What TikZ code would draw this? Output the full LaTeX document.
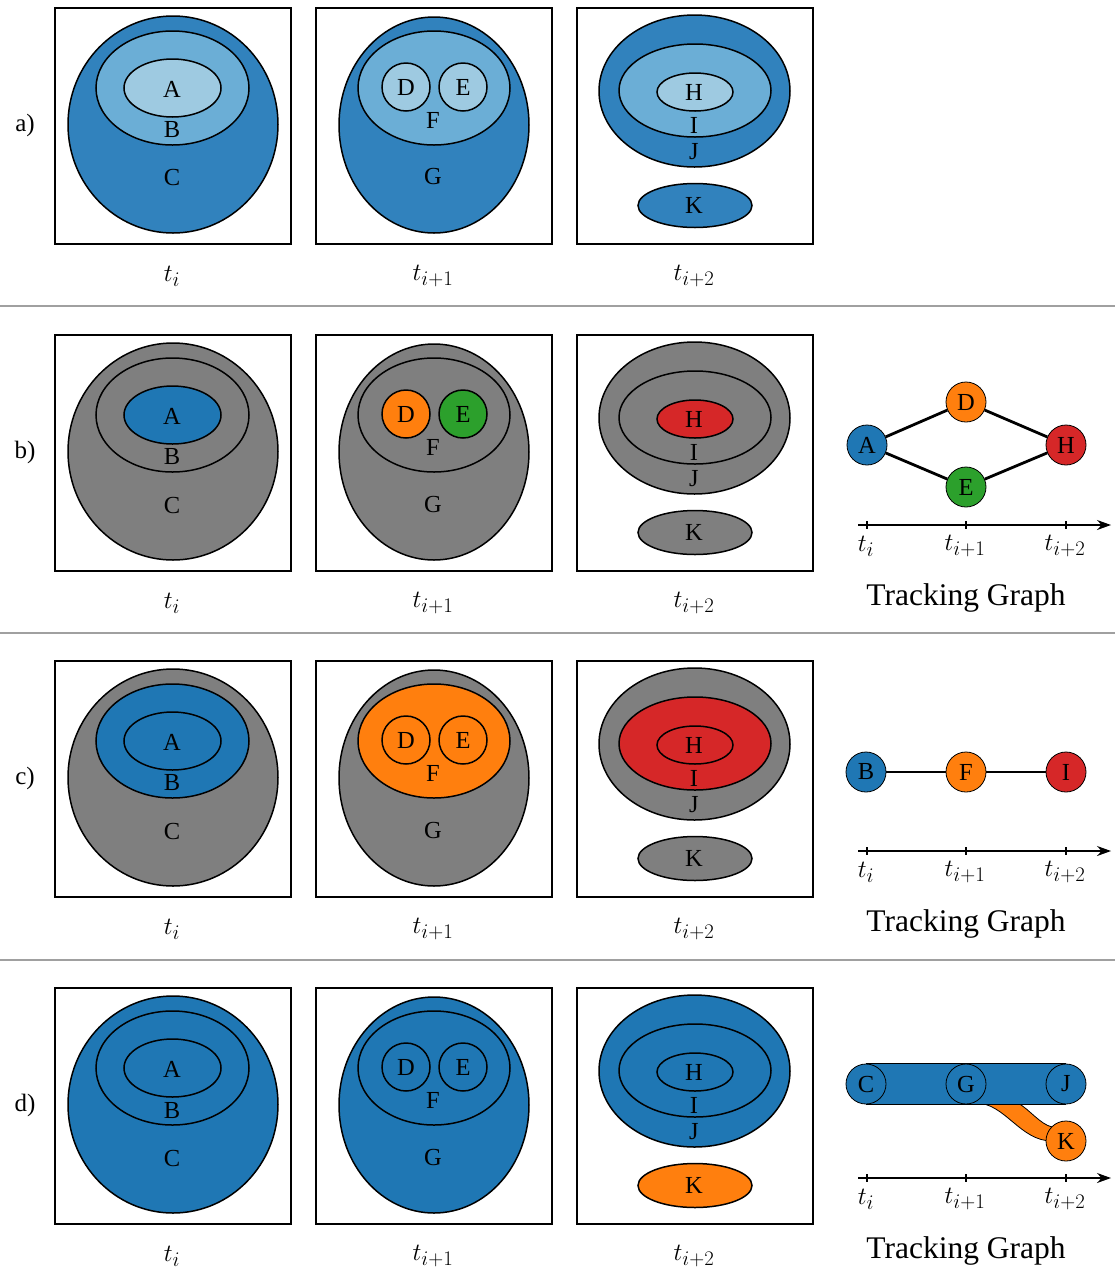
\documentclass[tikz,border=0pt]{standalone}
\usepackage{fontspec}
\setmainfont{Liberation Serif}
\usetikzlibrary{arrows.meta,backgrounds}
\definecolor{bdark}{HTML}{3182BD}
\definecolor{bmid}{HTML}{6BAED6}
\definecolor{blight}{HTML}{9ECAE1}
\definecolor{tblue}{HTML}{1F77B4}
\definecolor{torange}{HTML}{FF7F0E}
\definecolor{tgreen}{HTML}{2CA02C}
\definecolor{tred}{HTML}{D62728}
\definecolor{rgray}{HTML}{7F7F7F}
\definecolor{sepgray}{HTML}{A0A0A0}
\tikzset{
  frame/.style={draw, line width=1.6pt},
  region/.style={draw, line width=1.5pt},
  lab/.style={inner sep=0pt, font=\fontsize{24.5}{29}\selectfont},
  rowlab/.style={inner sep=0pt, font=\fontsize{25}{30}\selectfont},
  tlab/.style={inner sep=0pt, font=\fontsize{29}{35}\selectfont},
  tglab/.style={inner sep=0pt, font=\fontsize{31.5}{38}\selectfont},
  gnode/.style={circle, draw, line width=0.8pt, minimum size=40pt, inner sep=0pt, font=\fontsize{24.5}{29}\selectfont},
  gedge/.style={line width=2.8pt},
  axisline/.style={line width=1.3pt, -{Stealth[length=14pt,width=10pt]}},
  tick/.style={line width=1.2pt},
  sepline/.style={draw=sepgray, line width=1.5pt},
}
\newcommand\panelrow[2]{%
\begin{scope}[shift={(0,#1)}]
  % panel 1
  \draw[frame] (55,8) rectangle (291,244);
  \draw[region, fill=cC] (173,124.5) ellipse [x radius=105pt, y radius=108.5pt];
  \draw[region, fill=cB] (172.5,88) ellipse [x radius=76.5pt, y radius=57pt];
  \draw[region, fill=cA] (172.5,88) ellipse [x radius=48.5pt, y radius=29pt];
  \node[lab] (#2A) at (172,89) {A};
  \node[lab] (#2B) at (172,130) {B};
  \node[lab] (#2C) at (172,178) {C};
  % panel 2
  \draw[frame] (316,8) rectangle (552,244);
  \draw[region, fill=cG] (434,125) ellipse [x radius=95pt, y radius=108pt];
  \draw[region, fill=cF] (434,88) ellipse [x radius=76pt, y radius=57pt];
  \draw[region, fill=cD] (406,87) circle [radius=24pt];
  \draw[region, fill=cE] (463,87) circle [radius=24pt];
  \node[lab] (#2D) at (406,87) {D};
  \node[lab] (#2E) at (463,87) {E};
  \node[lab] (#2F) at (433,120) {F};
  \node[lab] (#2G) at (433,177) {G};
  % panel 3
  \draw[frame] (577,8) rectangle (813,244);
  \draw[region, fill=cJ] (694.5,91) ellipse [x radius=95.5pt, y radius=76pt];
  \draw[region, fill=cI] (695,90.5) ellipse [x radius=76pt, y radius=46.5pt];
  \draw[region, fill=cH] (695,92) ellipse [x radius=38pt, y radius=19pt];
  \draw[region, fill=cK] (695,205.5) ellipse [x radius=57pt, y radius=22pt];
  \node[lab] (#2H) at (694,92) {H};
  \node[lab] (#2I) at (694,125) {I};
  \node[lab] (#2J) at (694,152) {J};
  \node[lab] (#2K) at (694,205) {K};
  % time labels
  \node[tlab] (#2t0) at (172,276) {$t_i$};
  \node[tlab] (#2t1) at (433,276) {$t_{i+1}$};
  \node[tlab] (#2t2) at (694,276) {$t_{i+2}$};
\end{scope}}
\newcommand\timeaxis[2]{%
\begin{scope}[shift={(0,#1)}]
  \coordinate (#2ax0) at (858,198);
  \coordinate (#2ax1) at (1111,198);
  \draw[axisline] (#2ax0) -- (#2ax1);
  \foreach \xx in {867,966,1066} \draw[tick] (\xx,194) -- (\xx,202);
  \node[tlab] (#2gt0) at (866,219) {$t_i$};
  \node[tlab] (#2gt1) at (965,219) {$t_{i+1}$};
  \node[tlab] (#2gt2) at (1065,219) {$t_{i+2}$};
  \node[tglab] (#2tg) at (966,271) {Tracking Graph};
\end{scope}}
\begin{document}
\begin{tikzpicture}[x=1pt,y=-1pt]
\useasboundingbox (0,0) rectangle (1115,1270);
% separators
\draw[sepline] (0,306) -- (1115,306);
\draw[sepline] (0,633) -- (1115,633);
\draw[sepline] (0,960) -- (1115,960);
% row labels
\node[rowlab] (la) at (25,125) {a)};
\node[rowlab] (lb) at (25,452) {b)};
\node[rowlab] (lc) at (25,778) {c)};
\node[rowlab] (ld) at (25,1105) {d)};
% row a
\colorlet{cC}{bdark}\colorlet{cB}{bmid}\colorlet{cA}{blight}
\colorlet{cG}{bdark}\colorlet{cF}{bmid}\colorlet{cD}{blight}\colorlet{cE}{blight}
\colorlet{cJ}{bdark}\colorlet{cI}{bmid}\colorlet{cH}{blight}\colorlet{cK}{bdark}
\panelrow{0}{ra}
% row b
\colorlet{cC}{rgray}\colorlet{cB}{rgray}\colorlet{cA}{tblue}
\colorlet{cG}{rgray}\colorlet{cF}{rgray}\colorlet{cD}{torange}\colorlet{cE}{tgreen}
\colorlet{cJ}{rgray}\colorlet{cI}{rgray}\colorlet{cH}{tred}\colorlet{cK}{rgray}
\panelrow{327}{rb}
% row c
\colorlet{cC}{rgray}\colorlet{cB}{tblue}\colorlet{cA}{tblue}
\colorlet{cG}{rgray}\colorlet{cF}{torange}\colorlet{cD}{torange}\colorlet{cE}{torange}
\colorlet{cJ}{rgray}\colorlet{cI}{tred}\colorlet{cH}{tred}\colorlet{cK}{rgray}
\panelrow{653}{rc}
% row d
\colorlet{cC}{tblue}\colorlet{cB}{tblue}\colorlet{cA}{tblue}
\colorlet{cG}{tblue}\colorlet{cF}{tblue}\colorlet{cD}{tblue}\colorlet{cE}{tblue}
\colorlet{cJ}{tblue}\colorlet{cI}{tblue}\colorlet{cH}{tblue}\colorlet{cK}{torange}
\panelrow{980}{rd}
% graph b
\node[gnode, fill=tblue] (gbA) at (867,445) {A};
\node[gnode, fill=torange] (gbD) at (966,402) {D};
\node[gnode, fill=tgreen] (gbE) at (966,487) {E};
\node[gnode, fill=tred] (gbH) at (1066,445) {H};
\draw[gedge] (gbA) -- (gbD);
\draw[gedge] (gbD) -- (gbH);
\draw[gedge] (gbA) -- (gbE);
\draw[gedge] (gbE) -- (gbH);
\timeaxis{327}{gb}
% graph c
\node[gnode, fill=tblue] (gcB) at (866,772) {B};
\node[gnode, fill=torange] (gcF) at (966,772) {F};
\node[gnode, fill=tred] (gcI) at (1066,772) {I};
\draw[gedge] (gcB) -- (gcF);
\draw[gedge] (gcF) -- (gcI);
\timeaxis{653}{gc}
% graph d
\node[gnode, fill=tblue] (gdC) at (866,1084) {C};
\node[gnode, fill=tblue] (gdG) at (966,1084) {G};
\node[gnode, fill=tblue] (gdJ) at (1066,1084) {J};
\node[gnode, fill=torange] (gdK) at (1066,1141) {K};
\begin{pgfonlayer}{background}
  \draw[fill=torange, line width=0.8pt] (976,1103) .. controls (1005,1103) and (1020,1141) .. (1052,1141)
     -- (1052,1127) .. controls (1040,1124) and (1030,1110) .. (1018,1103) -- cycle;
  \fill[tblue] (gdC.north) rectangle (gdJ.south);
  \draw[line width=0.8pt] (gdC.north) -- (gdJ.north);
  \draw[line width=0.8pt] (gdC.south) -- (gdJ.south);
\end{pgfonlayer}
\timeaxis{980}{gd}
\end{tikzpicture}
\end{document}
